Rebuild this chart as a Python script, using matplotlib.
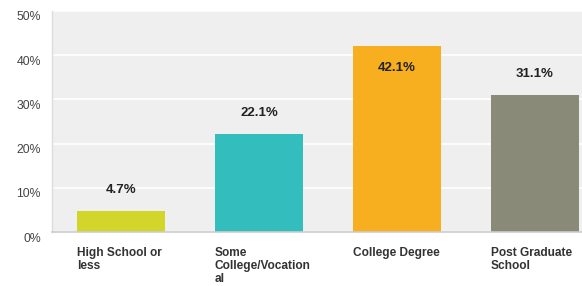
import matplotlib as mpl
import matplotlib.pyplot as plt
import matplotlib.transforms as mtrans

mpl.rc('font', family='Liberation Sans')

categories = ['High School or\nless', 'Some\nCollege/Vocation\nal', 'College Degree', 'Post Graduate\nSchool']
values = [4.7, 22.1, 42.1, 31.1]
colors = ['#D2D52A', '#33BDBD', '#F7AE1F', '#8A8A78']
yticks = [0, 10, 20, 30, 40, 50]

fig = plt.figure(figsize=(5.82, 2.86), dpi=100)
ax = fig.add_axes([52 / 582, 54 / 286, 530 / 582, 221 / 286])
ax.set_facecolor('#EFEFEF')

width = 0.638
x = range(len(categories))
ax.bar(x, values, width=width, color=colors, zorder=2)

ax.set_xlim(-0.5, -0.5 + 530 / 138)
ax.set_ylim(0, 50)
ax.set_yticks(yticks)
ax.set_yticklabels(['{}%'.format(t) for t in yticks], color='#444444', fontsize=8.8)
ax.yaxis.grid(True, color='white', linewidth=1.2, zorder=1)
ax.set_axisbelow(True)
ax.tick_params(axis='y', length=0, pad=8)
ax.set_xticks([])

# y tick labels sit a little below their gridline in the original
offset = mtrans.ScaledTranslation(0, -5 / 100, fig.dpi_scale_trans)
for lab in ax.get_yticklabels():
    lab.set_transform(lab.get_transform() + offset)

for s in ['top', 'right']:
    ax.spines[s].set_visible(False)
ax.spines['left'].set_color('#DDDDDD')
ax.spines['bottom'].set_color('#CCCCCC')
ax.spines['left'].set_linewidth(1)
ax.spines['bottom'].set_linewidth(1.2)

for i, v in enumerate(values):
    if v > 40:
        dy = -16
    else:
        dy = 15
    ax.annotate('{}%'.format(v), xy=(i, v), xytext=(0, dy), textcoords='offset points',
                ha='center', va='center', fontsize=9.5, fontweight='bold', color='#222222')
    ax.annotate(categories[i], xy=(i - width / 2, 0), xycoords=('data', 'axes fraction'),
                xytext=(0, -10.5), textcoords='offset points', ha='left', va='top',
                fontsize=8.6, fontweight='bold', color='#333333', linespacing=1.15)

fig.savefig('out.png', dpi=100)
